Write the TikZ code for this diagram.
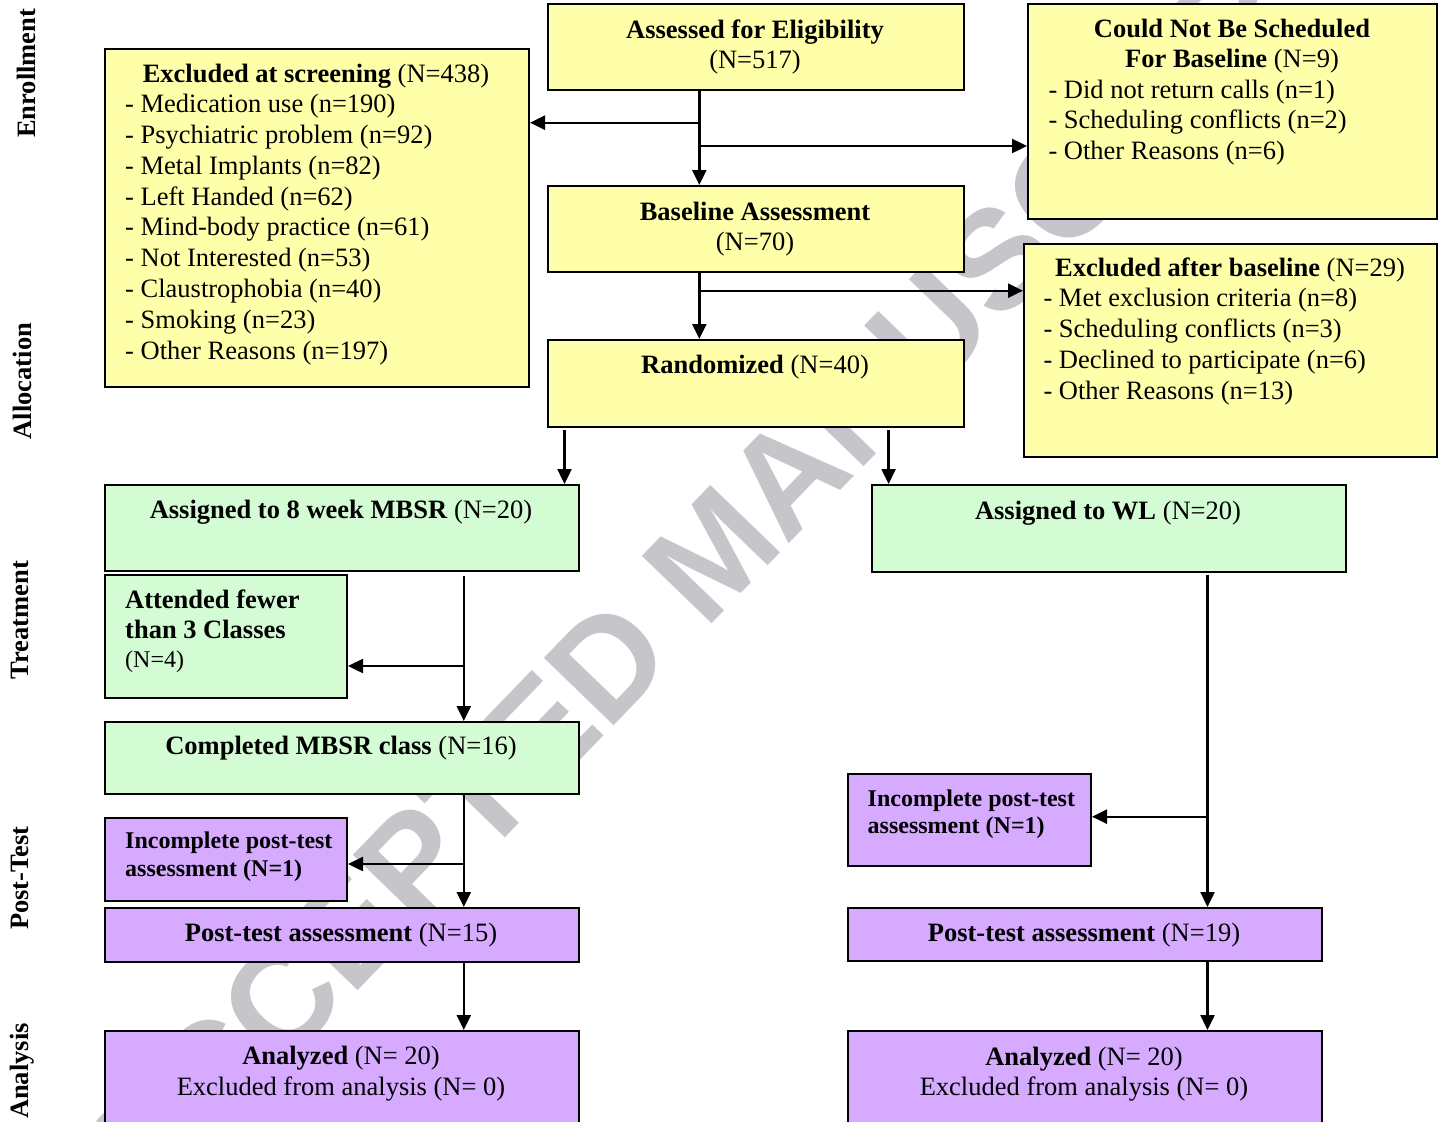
\documentclass[tikz,border=0pt]{standalone}
\usepackage{fontspec}
\setmainfont{Liberation Serif}
\newfontfamily\wmfont{Liberation Sans}
\usetikzlibrary{arrows.meta}
\definecolor{yel}{RGB}{255,255,170}
\definecolor{grn}{RGB}{212,252,212}
\definecolor{pur}{RGB}{214,170,255}
\definecolor{wmgray}{RGB}{198,198,202}
\newcommand\fbx[6]{\node[#2, minimum width={#5-#3}, minimum height={#6-#4}] (#1) at (#3,#4) {};}
\begin{document}
\begin{tikzpicture}[x=1pt,y=-1pt,
  box/.style={draw=black, line width=2pt, anchor=north west, inner sep=0},
  ybox/.style={box, fill=yel},
  gbox/.style={box, fill=grn},
  pbox/.style={box, fill=pur},
  txt/.style={inner sep=0, font=\fontsize{26.5}{31}\selectfont},
  ctr/.style={txt, anchor=base},
  lft/.style={txt, anchor=base west},
  sml/.style={inner sep=0, font=\fontsize{24}{27}\selectfont, anchor=base west},
  sect/.style={inner sep=0, font=\fontsize{26.5}{31}\selectfont\bfseries, rotate=90, anchor=base},
  arr/.style={line width=2.4pt, -{Triangle[length=15pt,width=14pt]}},
  wm/.style={inner sep=0, text=wmgray, font=\wmfont\bfseries\fontsize{141}{141}\selectfont, rotate=46}
]
\useasboundingbox (0,0) rectangle (1438,1122);
\fill[white] (0,0) rectangle (1438,1122);
\begin{scope}
\clip (0,0) rectangle (1438,1122);
\node[wm] (water) at (714,552) {ACCEPTED MANUSCRIPT};
\end{scope}

% section labels
\node[sect] (sEnr) at (35.7,73.4) {Enrollment};
\node[sect] (sAll) at (31,381) {Allocation};
\node[sect] (sTre) at (28.7,620) {Treatment};
\node[sect] (sPos) at (28.7,878) {Post-Test};
\node[sect] (sAna) at (28.7,1071) {Analysis};

% boxes
\fbx{screen}{ybox}{104}{48}{528}{386}
\fbx{assess}{ybox}{547}{3}{963}{89}
\fbx{could}{ybox}{1027}{3}{1436}{218}
\fbx{base}{ybox}{547}{185}{963}{271}
\fbx{exclb}{ybox}{1023}{243}{1436}{456}
\fbx{rand}{ybox}{547}{339}{963}{426}
\fbx{mbsr}{gbox}{104}{484}{578}{570}
\fbx{wl}{gbox}{871}{484}{1345}{571}
\fbx{attend}{gbox}{104}{574}{346}{697}
\fbx{compl}{gbox}{104}{721}{578}{793}
\fbx{incL}{pbox}{104}{817}{346}{900}
\fbx{postL}{pbox}{104}{907}{578}{961}
\fbx{incR}{pbox}{847}{773}{1090}{865}
\fbx{postR}{pbox}{847}{907}{1321}{960}
\fbx{anaL}{pbox}{104}{1030}{578}{1135}
\fbx{anaR}{pbox}{847}{1030}{1321}{1135}

% texts
\node[ctr] (tScr) at (316,82.7) {\textbf{Excluded at screening} (N=438)};
\foreach \t [count=\i from 0] in {Medication use (n=190), Psychiatric problem (n=92), Metal Implants (n=82), Left Handed (n=62), Mind-body practice (n=61), Not Interested (n=53), Claustrophobia (n=40), Smoking (n=23), Other Reasons (n=197)}
  \node[lft] (scr\i) at (125,{112.7+30.8*\i}) {- \t};

\node[ctr] (tAs1) at (755,38.3) {\textbf{Assessed for Eligibility}};
\node[ctr] (tAs2) at (755,68.3) {(N=517)};

\node[ctr] (tCo1) at (1232,37.3) {\textbf{Could Not Be Scheduled}};
\node[ctr] (tCo2) at (1232,67.7) {\textbf{For Baseline} (N=9)};
\foreach \t [count=\i from 0] in {Did not return calls (n=1), Scheduling conflicts (n=2), Other Reasons (n=6)}
  \node[lft] (cou\i) at (1048.3,{98.3+30.5*\i}) {- \t};

\node[ctr] (tBa1) at (755,220) {\textbf{Baseline Assessment}};
\node[ctr] (tBa2) at (755,250) {(N=70)};

\node[ctr] (tEx) at (1230,276.7) {\textbf{Excluded after baseline} (N=29)};
\foreach \t [count=\i from 0] in {Met exclusion criteria (n=8), Scheduling conflicts (n=3), Declined to participate (n=6), Other Reasons (n=13)}
  \node[lft] (exb\i) at (1043.3,{306.7+30.8*\i}) {- \t};

\node[ctr] (tRa) at (755,373.3) {\textbf{Randomized} (N=40)};
\node[ctr] (tMb) at (341,518.3) {\textbf{Assigned to 8 week MBSR} (N=20)};
\node[ctr] (tWl) at (1108,519.3) {\textbf{Assigned to WL} (N=20)};

\node[lft] (tAt1) at (125,608.3) {\textbf{Attended fewer}};
\node[lft] (tAt2) at (125,638.3) {\textbf{than 3 Classes}};
\node[sml] (tAt3) at (125,667) {(N=4)};

\node[ctr] (tCm) at (341,754) {\textbf{Completed MBSR class} (N=16)};

\node[sml] (tIL1) at (125,848.3) {\textbf{Incomplete post-test}};
\node[sml] (tIL2) at (125,876) {\textbf{assessment (N=1)}};
\node[sml] (tIR1) at (867.5,806.7) {\textbf{Incomplete post-test}};
\node[sml] (tIR2) at (867.5,833.3) {\textbf{assessment (N=1)}};

\node[ctr] (tPL) at (341,941.7) {\textbf{Post-test assessment} (N=15)};
\node[ctr] (tPR) at (1084,941.7) {\textbf{Post-test assessment} (N=19)};

\node[ctr] (tAL1) at (341,1064.5) {\textbf{Analyzed} (N= 20)};
\node[ctr] (tAL2) at (341,1095) {Excluded from analysis (N= 0)};
\node[ctr] (tAR1) at (1084,1065) {\textbf{Analyzed} (N= 20)};
\node[ctr] (tAR2) at (1084,1095) {Excluded from analysis (N= 0)};

% junction coordinates
\coordinate (ja) at (699.3,0);
\coordinate (ya) at (0,122.7);
\coordinate (yb) at (0,146);
\coordinate (yc) at (0,290.7);
\coordinate (jb) at (564.5,430);
\coordinate (jc) at (888.6,430);
\coordinate (jd) at (463.8,576);
\coordinate (ye) at (0,666);
\coordinate (yf) at (0,864);
\coordinate (jg) at (1207.5,575);
\coordinate (yh) at (0,816.7);

% connectors
\draw[arr] (assess.south -| ja) -- (base.north -| ja);
\draw[arr] (ja |- ya) -- (screen.east |- ya);
\draw[arr] (ja |- yb) -- (could.west |- yb);
\draw[arr] (base.south -| ja) -- (rand.north -| ja);
\draw[arr] (ja |- yc) -- (exclb.west |- yc);
\draw[arr] (jb) -- (mbsr.north -| jb);
\draw[arr] (jc) -- (wl.north -| jc);
\draw[arr] (jd) -- (compl.north -| jd);
\draw[arr] (jd |- ye) -- (attend.east |- ye);
\draw[arr] (compl.south -| jd) -- (postL.north -| jd);
\draw[arr] (jd |- yf) -- (incL.east |- yf);
\draw[arr] (postL.south -| jd) -- (anaL.north -| jd);
\draw[arr] (jg) -- (postR.north -| jg);
\draw[arr] (jg |- yh) -- (incR.east |- yh);
\draw[arr] (postR.south -| jg) -- (anaR.north -| jg);
\end{tikzpicture}
\end{document}
